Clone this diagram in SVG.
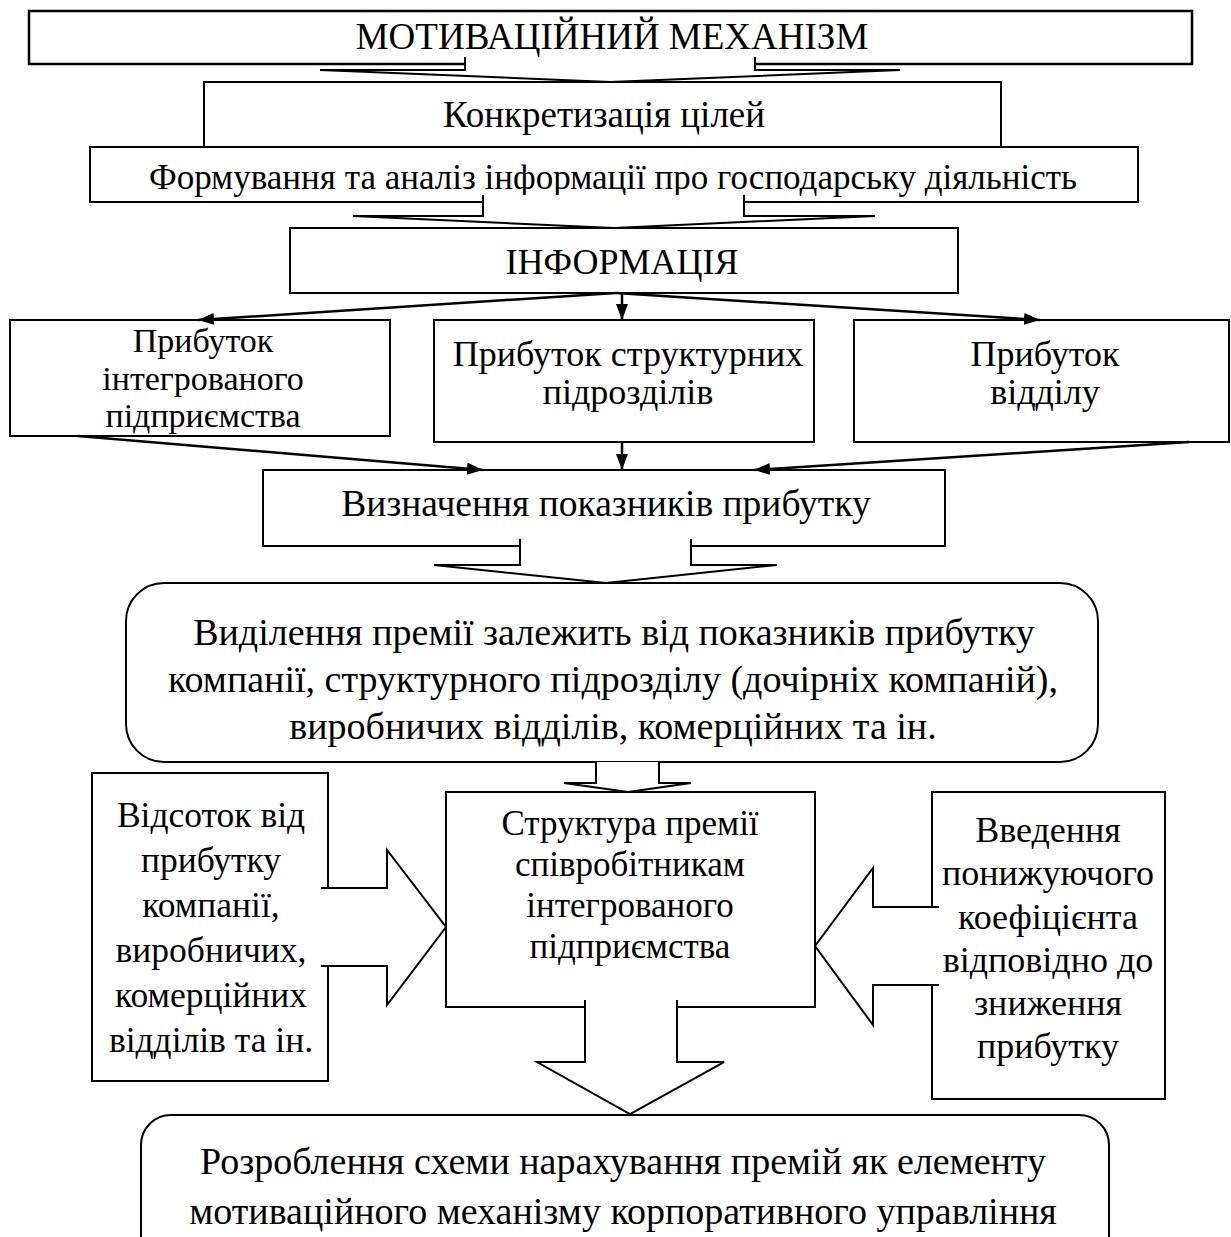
<svg xmlns="http://www.w3.org/2000/svg" width="1231" height="1237" viewBox="0 0 1231 1237">
<style>
.b{fill:#fff;stroke:#000;stroke-width:2}
.ba{fill:#fff;stroke:#000;stroke-width:2;stroke-linejoin:miter}
.t{font-family:"Liberation Serif","Times New Roman",serif;font-size:35px;fill:#000;text-anchor:middle}
.c{stroke:#000;stroke-width:2.5;fill:none}
</style>
<defs>
<marker id="ah" markerUnits="userSpaceOnUse" markerWidth="18" markerHeight="14" refX="16" refY="6" orient="auto">
<path d="M0,0 L16,6 L0,12 z" fill="#000"/>
</marker>
</defs>
<rect width="1231" height="1237" fill="#fff"/>
<g id="n1"><rect class="b" x="29" y="11" width="1163" height="53" style="stroke-width:2.5"/><text class="t" x="612" y="49" style="font-size:37px">МОТИВАЦІЙНИЙ МЕХАНІЗМ</text></g>
<g id="n2"><rect class="b" x="204" y="82" width="797" height="65"/><text class="t" x="604" y="127" style="font-size:37px">Конкретизація цілей</text></g>
<g id="n3"><rect class="b" x="90" y="147" width="1048" height="55"/><text class="t" x="613" y="189">Формування та аналіз інформації про господарську діяльність</text></g>
<g id="n4"><rect class="b" x="290" y="228" width="668" height="65"/><text class="t" x="622" y="274" style="font-size:36px">ІНФОРМАЦІЯ</text></g>
<g id="n5"><rect class="b" x="10" y="320" width="380" height="116"/><text class="t" x="203" y="352" style="font-size:34px">Прибуток</text><text class="t" x="203" y="390" style="font-size:34px">інтегрованого</text><text class="t" x="203" y="427" style="font-size:34px">підприємства</text></g>
<g id="n6"><rect class="b" x="434" y="320" width="380" height="122"/><text class="t" x="628" y="366" style="font-size:36px">Прибуток структурних</text><text class="t" x="628" y="404" style="font-size:36px">підрозділів</text></g>
<g id="n7"><rect class="b" x="854" y="320" width="375" height="122"/><text class="t" x="1045" y="366" style="font-size:36px">Прибуток</text><text class="t" x="1045" y="404" style="font-size:36px">відділу</text></g>
<g id="n8"><rect class="b" x="263" y="470" width="682" height="76"/><text class="t" x="606" y="516" style="font-size:37.5px">Визначення показників прибутку</text></g>
<g id="n9"><rect class="b" x="126" y="583" width="972" height="179" rx="38" ry="38"/><text class="t" x="614" y="645" style="font-size:38px">Виділення премії залежить від показників прибутку</text><text class="t" x="613" y="692" style="font-size:38px">компанії, структурного підрозділу (дочірніх компаній),</text><text class="t" x="613" y="739" style="font-size:38px">виробничих відділів, комерційних та ін.</text></g>
<g id="n10"><rect class="b" x="92" y="773" width="236" height="308"/><text class="t" x="211" y="827" style="font-size:35.5px">Відсоток від</text><text class="t" x="211" y="872" style="font-size:35.5px">прибутку</text><text class="t" x="211" y="917" style="font-size:35.5px">компанії,</text><text class="t" x="211" y="962" style="font-size:35.5px">виробничих,</text><text class="t" x="211" y="1007" style="font-size:35.5px">комерційних</text><text class="t" x="211" y="1052" style="font-size:35.5px">відділів та ін.</text></g>
<g id="n11"><rect class="b" x="446" y="792" width="369" height="215"/><text class="t" x="630" y="835">Структура премії</text><text class="t" x="630" y="876">співробітникам</text><text class="t" x="630" y="917">інтегрованого</text><text class="t" x="630" y="958">підприємства</text></g>
<g id="n12"><rect class="b" x="932" y="792" width="233" height="307"/><text class="t" x="1048" y="842" style="font-size:36px">Введення</text><text class="t" x="1048" y="885" style="font-size:36px">понижуючого</text><text class="t" x="1048" y="929" style="font-size:36px">коефіцієнта</text><text class="t" x="1048" y="972" style="font-size:36px">відповідно до</text><text class="t" x="1048" y="1015" style="font-size:36px">зниження</text><text class="t" x="1048" y="1058" style="font-size:36px">прибутку</text></g>
<g id="n13"><rect class="b" x="141" y="1115" width="968" height="150" rx="30" ry="30"/><text class="t" x="623" y="1174" style="font-size:38px">Розроблення схеми нарахування премій як елементу</text><text class="t" x="623" y="1224" style="font-size:38px">мотиваційного механізму корпоративного управління</text></g>
<g id="connectors">
<path class="ba" d="M465,57 L465,70 L320,70 L610,82 L900,70 L755,70 L755,57"/>
<path class="ba" d="M483,195 L483,216 L353,216 L614,228 L875,216 L744,216 L744,195"/>
<path class="ba" d="M520,539 L520,565 L434,565 L606,583 L777,565 L691,565 L691,539"/>
<path class="ba" d="M596,762 L596,783 L564,783 L628,792 L691,783 L659,783 L659,762"/>
<path class="ba" d="M585,1000 L585,1062 L537,1062 L630,1114 L724,1062 L677,1062 L677,1000"/>
<path class="ba" d="M321,888 L387,888 L387,850 L446,927 L387,1005 L387,966 L321,966"/>
<path class="ba" d="M939,907 L873,907 L873,868 L815,946 L873,1025 L873,985 L939,985"/>
<line class="c" x1="616" y1="293" x2="198" y2="320" marker-end="url(#ah)"/>
<line class="c" x1="622" y1="293" x2="622" y2="320" marker-end="url(#ah)"/>
<line class="c" x1="616" y1="293" x2="1040" y2="320" marker-end="url(#ah)"/>
<line class="c" x1="78" y1="436" x2="483" y2="470" marker-end="url(#ah)"/>
<line class="c" x1="622" y1="442" x2="622" y2="470" marker-end="url(#ah)"/>
<line class="c" x1="1189" y1="442" x2="754" y2="470" marker-end="url(#ah)"/>
</g>
</svg>
